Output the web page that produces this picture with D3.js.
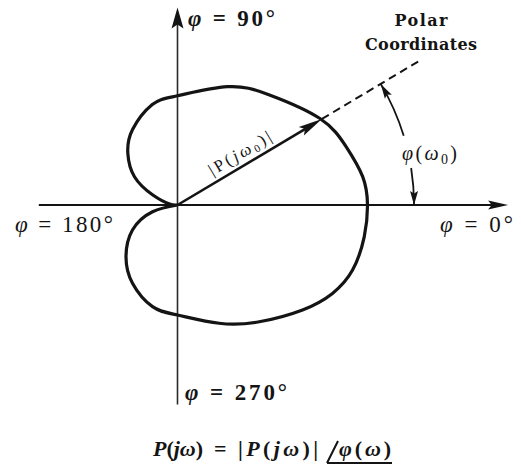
<!DOCTYPE html>
<html><head><meta charset="utf-8">
<script src="https://cdn.jsdelivr.net/npm/d3@7"></script>
<style>body{margin:0;background:#fff} svg{display:block}</style>
</head><body>
<svg id="c" width="521" height="473"></svg>
<script>
// polar plot P(jω): phase angle (deg) and normalised magnitude
const curveAngles = [180, 173, 158, 146.7, 133.9, 120.8, 104.1, 90, 67.1, 50.1, 31.4, 19.1, 8.7, 0,
  -9.6, -20.4, -29.7, -40, -55, -70.6, -90, -103.8, -119.9, -134.9, -151, -165, -180];
const curveMagnitudes = [0, 0.042, 0.140, 0.271, 0.377, 0.462, 0.545, 0.575, 0.676, 0.755, 0.876, 0.939, 0.986, 1.0,
  0.997, 0.983, 0.939, 0.859, 0.75, 0.66, 0.579, 0.551, 0.475, 0.384, 0.271, 0.136, 0];
const omega0Angle = 30.8;
const omega0Magnitude = 0.885;
const rayMagnitude = 1.48;
const arcMagnitude = 1.245;
const axisXExtent = [-0.73, 1.74];
const axisYExtent = [-1.05, 1.04];
const axisLabels = ["0°", "90°", "180°", "270°"];

const svg = d3.select("#c");
const R = 190, cx = 177.5, cy = 205;
const x = d3.scaleLinear().domain([-1, 1]).range([cx - R, cx + R]);
const y = d3.scaleLinear().domain([-1, 1]).range([cy + R, cy - R]);
const rad = d => d * Math.PI / 180;
const px = (a, m) => x(m * Math.cos(rad(a)));
const py = (a, m) => y(m * Math.sin(rad(a)));
const ink = "#141414";
const serif = "Liberation Serif, Times New Roman, serif";
const dserif = "DejaVu Serif, serif";

function arrowHead(tx, ty, dir, len, hw) {
  const ux = Math.cos(dir), uy = Math.sin(dir);
  const bx = tx - ux * len, by = ty - uy * len;
  const nx = -uy, ny = ux;
  const mx = tx - ux * len * 0.82, my = ty - uy * len * 0.82;
  svg.append("path")
    .attr("d", `M${tx},${ty}L${bx + nx * hw},${by + ny * hw}L${mx},${my}L${bx - nx * hw},${by - ny * hw}Z`)
    .attr("fill", ink);
}

// axes
svg.append("line").attr("x1", x(axisXExtent[0])).attr("x2", x(axisXExtent[1]) - 6)
  .attr("y1", y(0)).attr("y2", y(0)).attr("stroke", ink).attr("stroke-width", 2);
arrowHead(x(axisXExtent[1]), y(0), 0, 20, 4.5);
svg.append("line").attr("x1", x(0)).attr("x2", x(0))
  .attr("y1", y(axisYExtent[0])).attr("y2", y(axisYExtent[1]) + 6)
  .attr("stroke", "#2a2a2a").attr("stroke-width", 1.6);
arrowHead(x(0), y(axisYExtent[1]), -Math.PI / 2, 21, 6);

// curve
const pts = curveAngles.map((a, i) => [px(a, curveMagnitudes[i]), py(a, curveMagnitudes[i])]);
svg.append("path").attr("d", d3.line().curve(d3.curveNatural)(pts))
  .attr("fill", "none").attr("stroke", ink).attr("stroke-width", 3.2);

// |P(jω0)| vector
const tipX = px(omega0Angle, omega0Magnitude), tipY = py(omega0Angle, omega0Magnitude);
const dirV = Math.atan2(tipY - y(0), tipX - x(0));
svg.append("line").attr("x1", x(0)).attr("y1", y(0))
  .attr("x2", tipX - Math.cos(dirV) * 10).attr("y2", tipY - Math.sin(dirV) * 10)
  .attr("stroke", ink).attr("stroke-width", 2.6);
arrowHead(tipX, tipY, dirV, 24, 5);

// dashed ray
svg.append("line").attr("x1", tipX).attr("y1", tipY)
  .attr("x2", px(omega0Angle, rayMagnitude)).attr("y2", py(omega0Angle, rayMagnitude))
  .attr("stroke", ink).attr("stroke-width", 2).attr("stroke-dasharray", "8,5");

// angle arc φ(ω0)
const rArc = x(arcMagnitude) - x(0);
function arcSeg(a1, a2) {
  const p = d3.path();
  p.arc(x(0), y(0), rArc, -rad(a2), -rad(a1));
  svg.append("path").attr("d", p.toString()).attr("fill", "none")
    .attr("stroke", ink).attr("stroke-width", 1.8);
}
arcSeg(0, 9);
arcSeg(17, omega0Angle);
arrowHead(px(0, arcMagnitude), py(0, arcMagnitude), Math.PI / 2, 14, 4);
{
  const a = rad(omega0Angle);
  arrowHead(px(omega0Angle, arcMagnitude), py(omega0Angle, arcMagnitude), Math.atan2(-Math.cos(a), -Math.sin(a)), 15, 4);
}

// axis labels
const lab = [
  {t: axisLabels[1], x: 188, y: 26, w: 87, b: true},
  {t: axisLabels[2], x: 15, y: 232, w: 98, b: false},
  {t: axisLabels[0], x: 440, y: 232, w: 73, b: false},
  {t: axisLabels[3], x: 185, y: 400, w: 102, b: true}
];
lab.forEach(d => {
  const t = svg.append("text").attr("x", d.x).attr("y", d.y).attr("font-family", serif)
    .attr("font-size", 23).attr("font-weight", d.b ? "bold" : "normal").attr("fill", ink)
    .attr("textLength", d.w).attr("lengthAdjust", "spacing");
  t.append("tspan").attr("font-style", "italic").text("φ");
  t.append("tspan").text(" = " + d.t);
});

svg.append("text").attr("x", 421).attr("y", 26).attr("text-anchor", "middle")
  .attr("font-family", dserif).attr("font-weight", "bold").attr("font-size", 16).attr("fill", ink)
  .attr("textLength", 53).attr("lengthAdjust", "spacing").text("Polar");
svg.append("text").attr("x", 421).attr("y", 50).attr("text-anchor", "middle")
  .attr("font-family", dserif).attr("font-weight", "bold").attr("font-size", 16).attr("fill", ink)
  .attr("textLength", 112).attr("lengthAdjust", "spacing").text("Coordinates");

// |P(jω0)| label along vector
{
  const along = 80, off = 7;
  const lx = x(0) + Math.cos(dirV) * along + Math.sin(dirV) * off;
  const ly = y(0) + Math.sin(dirV) * along - Math.cos(dirV) * off;
  const t = svg.append("text").attr("transform", `translate(${lx},${ly}) rotate(${-omega0Angle})`)
    .attr("text-anchor", "middle").attr("font-family", serif).attr("font-size", 17).attr("fill", ink)
    .attr("textLength", 70).attr("lengthAdjust", "spacing");
  t.append("tspan").text("|P(");
  t.append("tspan").attr("font-style", "italic").text("jω");
  t.append("tspan").attr("font-size", 11).attr("dy", 3).text("0");
  t.append("tspan").attr("dy", -3).text(")|");
}

// φ(ω0) label
{
  const t = svg.append("text").attr("x", 402).attr("y", 160).attr("font-family", serif)
    .attr("font-size", 20).attr("fill", ink).attr("textLength", 55).attr("lengthAdjust", "spacing");
  t.append("tspan").attr("font-style", "italic").text("φ");
  t.append("tspan").text("(");
  t.append("tspan").attr("font-style", "italic").text("ω");
  t.append("tspan").attr("font-size", 14).attr("dy", 4).text("0");
  t.append("tspan").attr("dy", -4).text(")");
}

// formula
{
  const fs = 22;
  const part = (x0, w, pieces) => {
    const t = svg.append("text").attr("x", x0).attr("y", 456).attr("font-family", serif)
      .attr("font-size", fs).attr("font-weight", "bold").attr("fill", ink)
      .attr("textLength", w).attr("lengthAdjust", "spacing");
    pieces.forEach(([s, it]) => t.append("tspan").attr("font-style", it ? "italic" : "normal").text(s));
  };
  part(153, 50, [["P", 1], ["(", 0], ["jω", 1], [")", 0]]);
  part(214, 14, [["=", 0]]);
  part(238, 80, [["|", 0], ["P", 1], ["(", 0], ["jω", 1], [")", 0], ["|", 0]]);
  part(339, 52, [["φ", 1], ["(", 0], ["ω", 1], [")", 0]]);
  svg.append("path").attr("d", "M327,463L338,441M327,463L392,463")
    .attr("stroke", ink).attr("stroke-width", 2).attr("fill", "none");
}
</script>
</body></html>
